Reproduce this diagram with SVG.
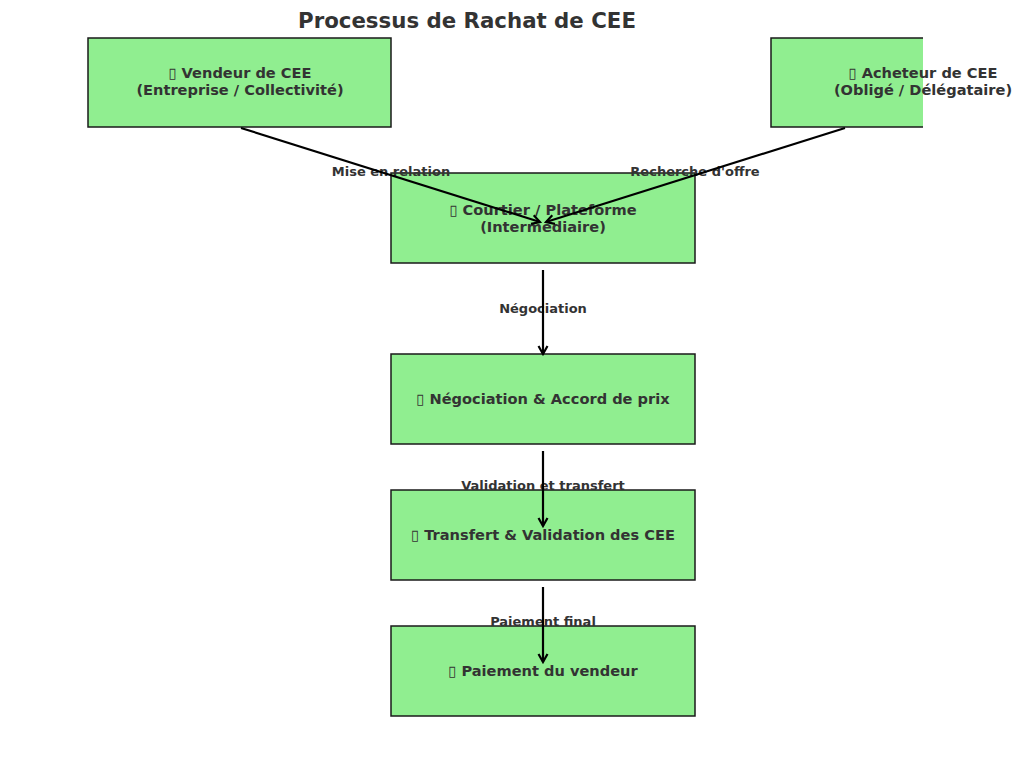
<svg xmlns="http://www.w3.org/2000/svg" width="1024" height="773" viewBox="0 0 1024 773">
<defs>
<style>
.box{fill:#90EE90;stroke:#1a1a1a;stroke-width:1.5}
.fill{fill:#90EE90;stroke:none}
.edge{fill:none;stroke:#1a1a1a;stroke-width:1.5}
.nt{font-family:"DejaVu Sans",sans-serif;font-weight:bold;font-size:14.6px;fill:#333;text-anchor:middle}
.lt{font-family:"DejaVu Sans",sans-serif;font-weight:bold;font-size:13px;fill:#333;text-anchor:middle}
.title{font-family:"DejaVu Sans",sans-serif;font-weight:bold;font-size:21.3px;fill:#333;text-anchor:middle}
.conn{stroke:#000;stroke-width:2.2;fill:none;marker-end:url(#ah)}
</style>
<marker id="ah" markerUnits="userSpaceOnUse" viewBox="-10 -6 12 12" markerWidth="12" markerHeight="12" refX="0" refY="0" orient="auto">
<path d="M-8,-4.5 L0,0 L-8,4.5" fill="none" stroke="#000" stroke-width="2.2"/>
</marker>
</defs>
<rect width="1024" height="773" fill="#fff"/>
<text class="title" x="467" y="28">Processus de Rachat de CEE</text>
<g id="vendeur">
<rect class="box" x="88" y="38" width="303" height="89"/>
<text class="nt" x="240" y="78">▯ Vendeur de CEE</text>
<text class="nt" x="240" y="95">(Entreprise / Collectivité)</text>
</g>
<g id="acheteur">
<rect class="fill" x="771" y="38" width="152" height="89"/>
<path class="edge" d="M923,38 H771 V127 H923"/>
<text class="nt" x="923" y="78">▯ Acheteur de CEE</text>
<text class="nt" x="923" y="95">(Obligé / Délégataire)</text>
</g>
<g id="courtier">
<rect class="box" x="391" y="173" width="304" height="90"/>
<text class="nt" x="543" y="215">▯ Courtier / Plateforme</text>
<text class="nt" x="543" y="232">(Intermédiaire)</text>
</g>
<g id="negociation">
<rect class="box" x="391" y="354" width="304" height="90"/>
<text class="nt" x="543" y="404">▯ Négociation &amp; Accord de prix</text>
</g>
<g id="transfert">
<rect class="box" x="391" y="490" width="304" height="90"/>
<text class="nt" x="543" y="540">▯ Transfert &amp; Validation des CEE</text>
</g>
<g id="paiement">
<rect class="box" x="391" y="626" width="304" height="90"/>
<text class="nt" x="543" y="676">▯ Paiement du vendeur</text>
</g>
<g id="labels">
<text class="lt" x="391" y="176">Mise en relation</text>
<text class="lt" x="695" y="176">Recherche d'offre</text>
<text class="lt" x="543" y="313">Négociation</text>
<text class="lt" x="543" y="490">Validation et transfert</text>
<text class="lt" x="543" y="626">Paiement final</text>
</g>
<g id="connectors">
<line class="conn" x1="241" y1="128" x2="540" y2="222"/>
<line class="conn" x1="845" y1="128" x2="546" y2="222"/>
<line class="conn" x1="543" y1="270" x2="543" y2="354"/>
<line class="conn" x1="543" y1="451" x2="543" y2="526"/>
<line class="conn" x1="543" y1="587" x2="543" y2="662"/>
</g>
</svg>
